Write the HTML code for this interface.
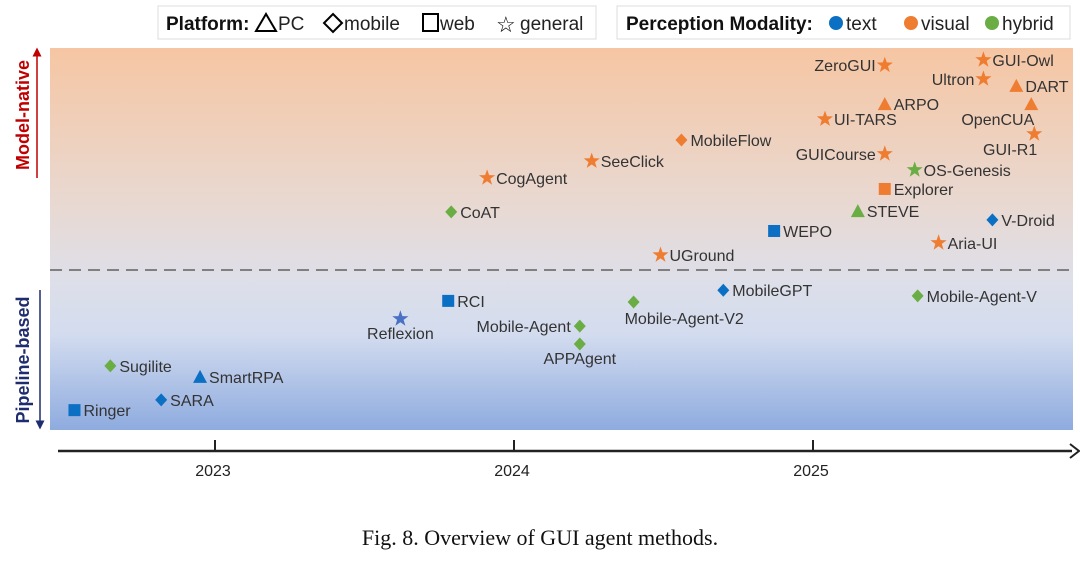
<!DOCTYPE html>
<html><head><meta charset="utf-8"><style>
body{margin:0;background:#fff;width:1080px;height:558px;overflow:hidden;font-family:"Liberation Sans",sans-serif}
svg text{font-family:"Liberation Sans",sans-serif}
</style></head><body>
<svg id="chart" width="1080" height="558" viewBox="0 0 1080 558" xmlns="http://www.w3.org/2000/svg">
<defs>
<linearGradient id="bg" x1="0" y1="0" x2="0" y2="1">
<stop offset="0" stop-color="#f6c6a3"/>
<stop offset="0.42" stop-color="#e8d9d3"/>
<stop offset="0.6" stop-color="#dedfe8"/>
<stop offset="0.75" stop-color="#d3dcef"/>
<stop offset="1" stop-color="#8eabdf"/>
</linearGradient>
<marker id="ah" markerWidth="6" markerHeight="6" refX="3" refY="3" orient="auto"><path d="M0,0L6,3L0,6z" fill="context-stroke"/></marker>
</defs>
<rect x="50" y="48" width="1023" height="382" fill="url(#bg)"/>
<line x1="50" y1="270" x2="1076" y2="270" stroke="#808080" stroke-width="2" stroke-dasharray="12,7"/>
<g>
<rect x="158" y="6" width="438" height="33" fill="#fff" stroke="#ddd"/>
<text x="166" y="30" font-size="19" font-weight="bold" fill="#111">Platform:</text>
<path d="M256,31L266,14L276,31Z" fill="none" stroke="#000" stroke-width="2"/><text x="278" y="30" font-size="19" fill="#222">PC</text>
<path d="M333,14L342,23L333,32L324,23Z" fill="none" stroke="#000" stroke-width="2"/><text x="344" y="30" font-size="19" fill="#222">mobile</text>
<rect x="423" y="14" width="15" height="17" fill="none" stroke="#000" stroke-width="2"/><text x="440" y="30" font-size="19" fill="#222">web</text>
<text x="496" y="32" font-size="22" fill="#000">☆</text><text x="520" y="30" font-size="19" fill="#222">general</text>
</g>
<g>
<rect x="617" y="6" width="453" height="33" fill="#fff" stroke="#ddd"/>
<text x="626" y="30" font-size="19" font-weight="bold" fill="#111">Perception Modality:</text>
<circle cx="836" cy="23" r="7" fill="#0b6fc4"/><text x="846" y="30" font-size="19" fill="#222">text</text>
<circle cx="911" cy="23" r="7" fill="#ef7d31"/><text x="921" y="30" font-size="19" fill="#222">visual</text>
<circle cx="992" cy="23" r="7" fill="#6aad44"/><text x="1002" y="30" font-size="19" fill="#222">hybrid</text>
</g>
<g>
<line x1="37" y1="178" x2="37" y2="52" stroke="#c00000" stroke-width="1.5" marker-end="url(#ah)"/>
<text transform="translate(29,115) rotate(-90)" text-anchor="middle" font-size="18" font-weight="bold" fill="#c00000">Model-native</text>
</g>
<g>
<line x1="40" y1="290" x2="40" y2="425" stroke="#1f2d6e" stroke-width="1.5" marker-end="url(#ah)"/>
<text transform="translate(29,360) rotate(-90)" text-anchor="middle" font-size="18" font-weight="bold" fill="#1f2d6e">Pipeline-based</text>
</g>
<g id="xaxis">
<line x1="58" y1="451" x2="1072" y2="451" stroke="#222" stroke-width="2.5"/>
<path d="M1070,444L1079,451L1070,458" fill="none" stroke="#222" stroke-width="2"/>
</g>
<g id="marks"></g>
<text x="540" y="545" text-anchor="middle" font-size="22" style="font-family:'Liberation Serif',serif" fill="#111">Fig. 8.  Overview of GUI agent methods.</text>
</svg>
<script>
const names=["Ringer","SARA","Sugilite","SmartRPA","Reflexion","RCI","Mobile-Agent","APPAgent","Mobile-Agent-V2","MobileGPT","Mobile-Agent-V","CoAT","CogAgent","SeeClick","MobileFlow","UGround","WEPO","STEVE","Explorer","OS-Genesis","GUICourse","UI-TARS","ARPO","ZeroGUI","GUI-Owl","Ultron","DART","OpenCUA","GUI-R1","V-Droid","Aria-UI"];
const dates=[2022.53,2022.82,2022.65,2022.95,2023.62,2023.78,2024.22,2024.22,2024.40,2024.70,2025.35,2023.79,2023.91,2024.26,2024.56,2024.49,2024.87,2025.15,2025.24,2025.34,2025.24,2025.04,2025.24,2025.24,2025.57,2025.57,2025.68,2025.73,2025.74,2025.60,2025.42];
const levels=[5.2,7.9,16.8,13.9,29.1,33.8,27.2,22.5,33.5,36.6,35.1,57.1,66.0,70.4,75.9,45.8,52.1,57.3,63.1,68.1,72.3,81.4,85.3,95.5,96.9,91.9,90.1,85.3,77.5,55.0,49.0];
const platforms=["web","mobile","mobile","pc","general","web","mobile","mobile","mobile","mobile","mobile","mobile","general","general","mobile","general","web","pc","web","general","general","general","pc","general","general","general","pc","pc","general","mobile","general"];
const modalities=["text","text","hybrid","text","text","text","hybrid","hybrid","hybrid","text","hybrid","hybrid","visual","visual","visual","visual","text","hybrid","visual","hybrid","visual","visual","visual","visual","visual","visual","visual","visual","visual","text","visual"];
const labelPos=["r","r","r","r","b","r","l","b","br","r","r","r","r","r","r","r","r","r","r","r","l","r","r","l","r","l","r","bl","bl","r","r"];
const yearTicks=[2023,2024,2025];
const colors={text:"#0b6fc4",visual:"#ef7d31",hybrid:"#6aad44"};
function xScale(v){return 215+(v-2023)*299;}
function yScale(v){return 430-v*3.82;}
const NS="http://www.w3.org/2000/svg";
const ax=document.getElementById('xaxis');
yearTicks.forEach(t=>{
 const x=xScale(t);
 const l=document.createElementNS(NS,'line');
 
 
 l.setAttribute('x1',x);l.setAttribute('x2',x);l.setAttribute('y1',440);l.setAttribute('y2',451);l.setAttribute('stroke','#222');l.setAttribute('stroke-width','2');
 ax.appendChild(l);
 const tx=document.createElementNS(NS,'text');
 
 
 tx.setAttribute('x',x-2);tx.setAttribute('y',476);tx.setAttribute('text-anchor','middle');tx.setAttribute('font-size','16');tx.setAttribute('fill','#222');
 tx.textContent=t;ax.appendChild(tx);
});
const g=document.getElementById('marks');
names.forEach((n,i)=>{
 const x=xScale(dates[i]),y=yScale(levels[i]);
 let c=colors[modalities[i]];
 if(n==="Reflexion")c="#4a72c4";
 let s;const p=platforms[i];
 if(p==="pc"){s=document.createElementNS(NS,'path');s.setAttribute('d',`M${x-7},${y+6}L${x},${y-7}L${x+7},${y+6}Z`);}
 else if(p==="mobile"){s=document.createElementNS(NS,'path');s.setAttribute('d',`M${x},${y-6.5}L${x+6},${y}L${x},${y+6.5}L${x-6},${y}Z`);}
 else if(p==="web"){s=document.createElementNS(NS,'rect');s.setAttribute('x',x-6);s.setAttribute('y',y-6);s.setAttribute('width',12);s.setAttribute('height',12);}
 else{s=document.createElementNS(NS,'path');let d="";for(let k=0;k<10;k++){const r=k%2?3.4:8.5,a=-Math.PI/2+k*Math.PI/5;d+=(k?"L":"M")+(x+r*Math.cos(a)).toFixed(1)+","+(y+r*Math.sin(a)).toFixed(1);}s.setAttribute('d',d+"Z");}
 s.setAttribute('fill',c);
 
 
 g.appendChild(s);
 const t=document.createElementNS(NS,'text');
 
 
 t.setAttribute('font-size','16');t.setAttribute('fill','#333');
 const lp=labelPos[i];let tx=x+9,ty=y+6,an='start';
 if(lp==='l'){tx=x-9;an='end';}
 else if(lp==='b'){tx=x;ty=y+20;an='middle';}
 else if(lp==='br'){tx=x-9;ty=y+22;}
 else if(lp==='bl'){tx=x+3;ty=y+21;an='end';}
 t.setAttribute('x',tx);t.setAttribute('y',ty);t.setAttribute('text-anchor',an);
 t.textContent=n;g.appendChild(t);
});
</script>
</body></html>
